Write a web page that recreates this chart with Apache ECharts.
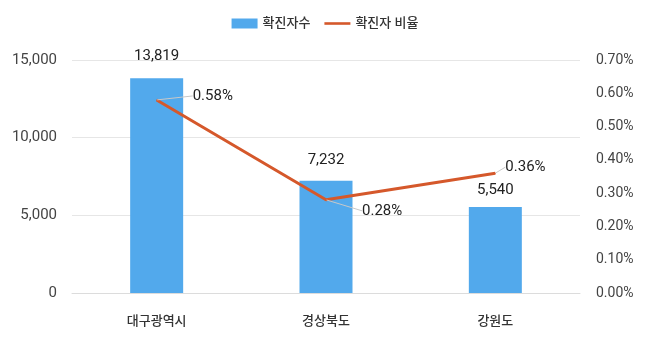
<!DOCTYPE html>
<html>
<head>
<meta charset="utf-8">
<script src="https://cdn.jsdelivr.net/npm/echarts@6/dist/echarts.min.js"></script>
<style>
  html, body { margin: 0; padding: 0; background: #fff; }
  #chart { width: 650px; height: 341px; }
</style>
</head>
<body>
<div id="chart"></div>
<script>
// Regions and their figures
const regions = ['대구광역시', '경상북도', '강원도'];
const confirmedCases = [13819, 7232, 5540];
const confirmedRate = [0.58, 0.28, 0.36]; // percent

const leftTicks = { min: 0, max: 15000, interval: 5000 };
const rightTicks = { min: 0, max: 0.7, interval: 0.1 };

// Label placement tweaks (pixels)
const barLabelGap = [15, 13, 9];
const rateLabelShift = [[36, -4], [36, 11], [10, -6]];

const FONT = 'Roboto, "Noto Sans CJK KR", sans-serif';
const chart = echarts.init(document.getElementById('chart'), null, { renderer: 'canvas' });

const barData = confirmedCases.map((v, i) => ({
  value: v,
  label: { distance: barLabelGap[i] }
}));

chart.setOption({
  animation: false,
  textStyle: { fontFamily: FONT },
  legend: {
    top: 12,
    left: 'center',
    itemWidth: 26,
    itemHeight: 10,
    itemGap: 14,
    textStyle: { fontSize: 13, color: '#333', fontFamily: FONT, fontWeight: 500 },
    data: [
      { name: '확진자수', icon: 'rect' },
      { name: '확진자 비율', icon: 'path://M0,0 L26,0 L26,2.6 L0,2.6 Z' }
    ]
  },
  grid: { left: 72, right: 70, top: 60, bottom: 48 },
  xAxis: {
    type: 'category',
    data: regions,
    axisLine: { lineStyle: { color: '#dcdcdc' } },
    axisTick: { show: false },
    axisLabel: { fontSize: 13, color: '#333', margin: 22, fontFamily: FONT, fontWeight: 500 }
  },
  yAxis: [
    {
      type: 'value',
      min: leftTicks.min, max: leftTicks.max, interval: leftTicks.interval,
      axisLine: { show: false },
      axisTick: { show: false },
      splitLine: { lineStyle: { color: '#e6e6e6' } },
      axisLabel: {
        fontSize: 15, color: '#444', margin: 15,
        formatter: v => v.toLocaleString('en-US')
      }
    },
    {
      type: 'value',
      min: rightTicks.min, max: rightTicks.max, interval: rightTicks.interval,
      axisLine: { show: false },
      axisTick: { show: false },
      splitLine: { show: false },
      axisLabel: {
        fontSize: 14, color: '#444', margin: 16,
        formatter: v => v.toFixed(2) + '%'
      }
    }
  ],
  series: [
    {
      name: '확진자수',
      type: 'bar',
      data: barData,
      barWidth: 53,
      itemStyle: { color: '#52a9ec' },
      label: {
        show: true,
        position: 'top',
        fontSize: 15,
        color: '#222',
        formatter: p => p.value.toLocaleString('en-US')
      }
    },
    {
      name: '확진자 비율',
      type: 'line',
      yAxisIndex: 1,
      data: confirmedRate,
      symbol: 'circle',
      symbolSize: 1,
      showSymbol: true,
      lineStyle: { color: '#d5582b', width: 3 },
      itemStyle: { color: '#d5582b' },
      label: {
        show: true,
        position: 'inside',
        fontSize: 15,
        color: '#222',
        align: 'left',
        formatter: p => p.value.toFixed(2) + '%'
      },
      labelLine: { show: true, lineStyle: { color: '#c8c8c8', width: 1 } },
      labelLayout: p => {
        const s = rateLabelShift[p.dataIndex];
        return { dx: s[0], dy: s[1] };
      }
    }
  ]
});
</script>
</body>
</html>
